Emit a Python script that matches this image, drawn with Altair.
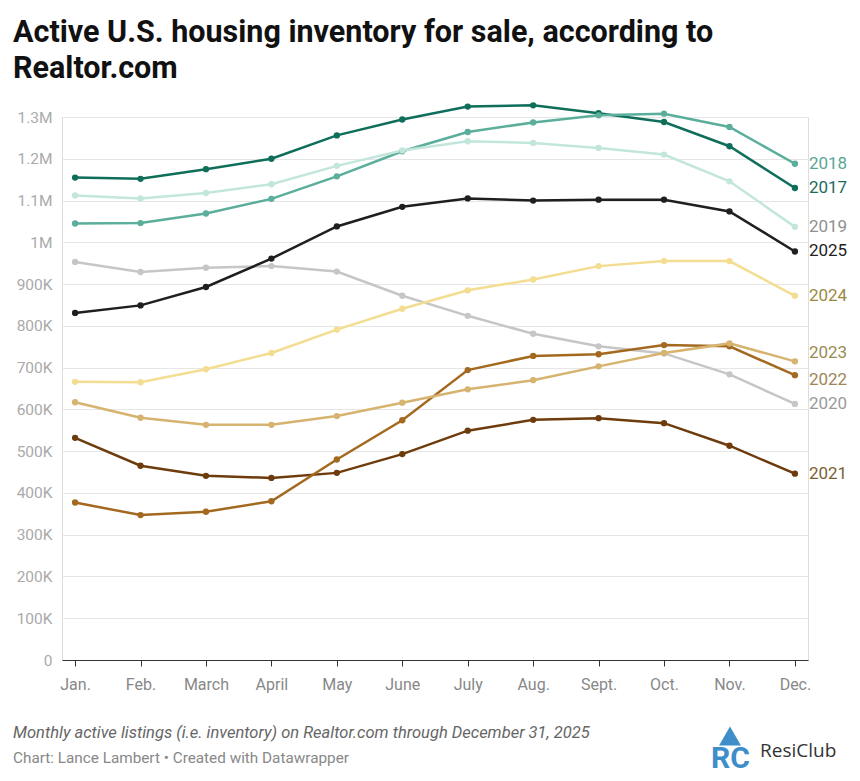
import altair as alt
import pandas as pd

months = ["Jan.", "Feb.", "March", "April", "May", "June", "July", "Aug.", "Sept.", "Oct.", "Nov.", "Dec."]
years = ["2017", "2018", "2019", "2020", "2021", "2022", "2023", "2024", "2025"]

v2017 = [1155000, 1152000, 1175000, 1200000, 1256000, 1294000, 1325000, 1328000, 1309000, 1288000, 1230000, 1130000]
v2018 = [1045000, 1046000, 1069000, 1104000, 1158000, 1218000, 1264000, 1287000, 1304000, 1308000, 1276000, 1188000]
v2019 = [1112000, 1105000, 1118000, 1139000, 1183000, 1220000, 1242000, 1238000, 1226000, 1210000, 1146000, 1037000]
v2020 = [953000, 929000, 939000, 943000, 930000, 872000, 824000, 781000, 751000, 734000, 684000, 613000]
v2021 = [532000, 465000, 441000, 436000, 448000, 493000, 549000, 575000, 579000, 567000, 513000, 446000]
v2022 = [377000, 347000, 355000, 380000, 480000, 574000, 694000, 728000, 732000, 754000, 751000, 682000]
v2023 = [617000, 580000, 563000, 563000, 584000, 616000, 648000, 670000, 703000, 735000, 758000, 715000]
v2024 = [666000, 665000, 696000, 735000, 791000, 841000, 885000, 911000, 943000, 955000, 955000, 872000]
v2025 = [831000, 849000, 893000, 961000, 1038000, 1085000, 1105000, 1100000, 1102000, 1102000, 1074000, 978000]
series = [v2017, v2018, v2019, v2020, v2021, v2022, v2023, v2024, v2025]

y_ticks = [0, 100000, 200000, 300000, 400000, 500000, 600000, 700000, 800000, 900000,
           1000000, 1100000, 1200000, 1300000]

line_colors = ["#0f6e5a", "#5aae9b", "#c3e6dc", "#c6c6c6", "#6e3b0c", "#a3691f", "#d6b36e", "#f3dd90", "#1f1f1f"]
label_colors = ["#1d6b5a", "#5aa594", "#8f8f8f", "#9a9a9a", "#7b6131", "#a08558", "#9a8b52", "#9b8a3e", "#222222"]
label_nudge = {"2023": -8, "2022": 5}

title_lines = ["Active U.S. housing inventory for sale, according to", "Realtor.com"]
note = "Monthly active listings (i.e. inventory) on Realtor.com through December 31, 2025"
credit = "Chart: Lance Lambert \u2022 Created with Datawrapper"

rows = []
for yr, vals in zip(years, series):
    for i, (m, v) in enumerate(zip(months, vals)):
        rows.append({"year": yr, "month": m, "idx": i, "value": v})
df = pd.DataFrame(rows)
last = df[df["month"] == "Dec."].copy()

W, H = 746, 543
FONT = "Roboto"

x_enc = alt.X("month:O", sort=months, scale=alt.Scale(type="point", padding=0.2),
              axis=alt.Axis(title=None, labelAngle=0, labelFontSize=16, labelColor="#888888",
                            labelFont=FONT, domainColor="#333333", tickColor="#333333",
                            tickSize=6, labelPadding=10, grid=False))
y_enc = alt.Y("value:Q", scale=alt.Scale(domain=[0, 1300000], nice=False),
              axis=alt.Axis(title=None, values=y_ticks, domain=False, ticks=False,
                            labelFontSize=15.5, labelColor="#aaaaaa", labelFont=FONT,
                            labelPadding=10, gridColor="#e6e6e6",
                            labelExpr="datum.value == 0 ? '0' : datum.value >= 1000000 ? format(datum.value/1000000, '~g') + 'M' : format(datum.value/1000, '~g') + 'K'"))
color_enc = alt.Color("year:N", scale=alt.Scale(domain=years, range=line_colors), legend=None)

base = alt.Chart(df)
lines = base.mark_line(strokeWidth=2.5).encode(x=x_enc, y=y_enc, color=color_enc, order=alt.Order("idx:Q"))
pts = base.mark_circle(size=40, opacity=1).encode(x=alt.X("month:O", sort=months), y="value:Q", color=color_enc)

label_layers = []
for yr, col in zip(years, label_colors):
    label_layers.append(
        alt.Chart(last[last["year"] == yr]).mark_text(
            align="left", baseline="middle", dx=14, dy=label_nudge.get(yr, 0),
            fontSize=17, font=FONT, color=col
        ).encode(x=alt.X("month:O", sort=months), y="value:Q", text="year:N")
    )

def txt(s, x, y, font=FONT, **kw):
    return alt.Chart(pd.DataFrame({"t": [s]})).mark_text(align="left", baseline="alphabetic", font=font, **kw).encode(
        text="t:N", x=alt.value(x), y=alt.value(y))

title1 = txt(title_lines[0], -49, -75, fontSize=30.5, fontWeight="bold", color="#111111")
title2 = txt(title_lines[1], -49, -39, fontSize=30.5, fontWeight="bold", color="#111111")
note_t = txt(note, -49, 621, fontSize=16.5, fontStyle="italic", color="#666666")
credit_t = txt(credit, -49, 646, fontSize=15.3, color="#888888")
logo_roof = alt.Chart(pd.DataFrame({"t": ["roof"]})).mark_point(
    shape="triangle-up", filled=True, size=480, color="#3d8ec9", opacity=1).encode(
    x=alt.value(668), y=alt.value(619))
logo_rc = txt("RC", 649, 651, fontSize=30, fontWeight="bold", color="#3d8ec9")
logo_name = txt("ResiClub", 698, 640, font="Open Sans", fontSize=19, color="#333333")

chart = alt.layer(lines, pts, *label_layers, title1, title2, note_t, credit_t, logo_roof, logo_rc, logo_name).properties(
    width=W, height=H,
    autosize=alt.AutoSizeParams(type="none"),
    padding={"left": 54, "top": 109, "right": 44, "bottom": 121},
).configure_view(stroke=None).configure(background="white")

chart.save("out.html", embed_options={"renderer": "svg", "actions": False})
